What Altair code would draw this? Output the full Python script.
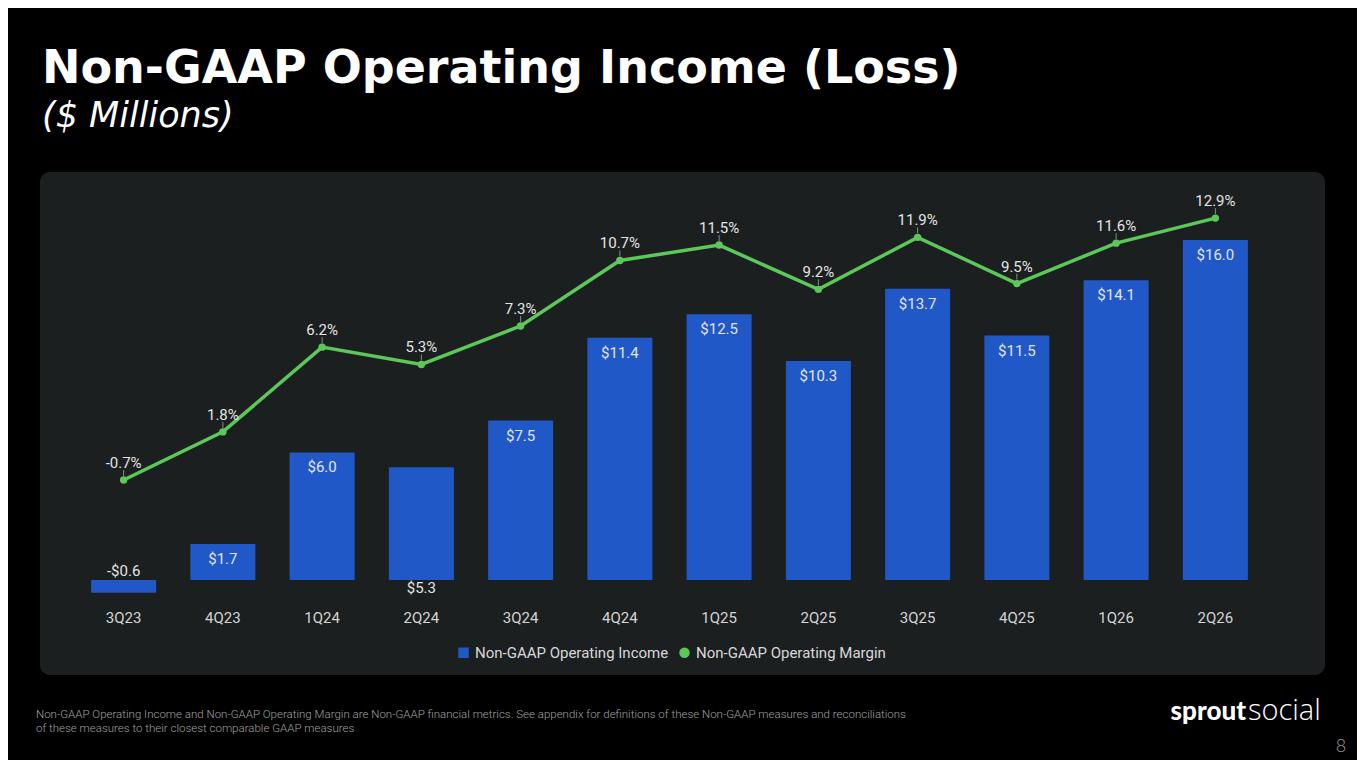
import altair as alt
import pandas as pd

quarters = ["3Q23", "4Q23", "1Q24", "2Q24", "3Q24", "4Q24", "1Q25", "2Q25", "3Q25", "4Q25", "1Q26", "2Q26"]
income = [-0.6, 1.7, 6.0, 5.3, 7.5, 11.4, 12.5, 10.3, 13.7, 11.5, 14.1, 16.0]
margin = [-0.7, 1.8, 6.2, 5.3, 7.3, 10.7, 11.5, 9.2, 11.9, 9.5, 11.6, 12.9]
series_names = ["Non-GAAP Operating Income", "Non-GAAP Operating Margin"]

BLUE = "#2158c8"
GREEN = "#5cc85a"
PANEL = "#1c1f20"
LABEL = "#e4e4e4"
FONT = "Roboto"

df = pd.DataFrame({"quarter": quarters, "income": income, "margin": margin})

W, H = 1191, 410
x_enc = alt.X("quarter:N", sort=quarters,
              scale=alt.Scale(paddingInner=0.345, paddingOuter=0.1725),
              axis=alt.Axis(title=None, labelAngle=0, ticks=False, domain=False,
                            labelColor="#d4d4d4", labelFont=FONT, labelFontSize=15,
                            labelPadding=10, grid=False, zindex=2))
inc_scale = alt.Scale(domain=[-0.94, 18.35], nice=False, zero=False)
mar_scale = alt.Scale(domain=[-6.93, 14.36], nice=False, zero=False)

base = alt.Chart(df)

panel = alt.Chart(pd.DataFrame({"p": [0]})).mark_rect(color=PANEL, cornerRadius=10).encode(
    x=alt.value(-34), x2=alt.value(1251), y=alt.value(-18), y2=alt.value(485))

legend = alt.Legend(orient="none", legendX=382, legendY=455, direction="horizontal",
                    title=None, labelColor="#d8d8d8", labelFont=FONT, labelFontSize=15,
                    labelLimit=400, symbolSize=110, columnPadding=8, padding=0,
                    symbolStrokeWidth=0, zindex=2)
color_scale = alt.Scale(domain=series_names, range=[BLUE, GREEN])

bars = base.transform_calculate(series="'Non-GAAP Operating Income'").mark_bar(
    cornerRadius=1).encode(
    x=x_enc,
    y=alt.Y("income:Q", scale=inc_scale, axis=None),
    y2=alt.datum(0),
    color=alt.Color("series:N", scale=color_scale, legend=legend),
)

lbl_expr = "(datum.income < 0 ? '-' : '') + '$' + format(abs(datum.income), '.1f')"
txt_in = base.transform_calculate(lbl=lbl_expr).transform_filter(
    "datum.income > 0 && datum.quarter != '2Q24'").mark_text(
    color=LABEL, font=FONT, fontSize=15, baseline="middle", dy=15).encode(
    x=x_enc, y=alt.Y("income:Q", scale=inc_scale, axis=None), text="lbl:N")
txt_neg = base.transform_calculate(lbl=lbl_expr, z="0").transform_filter(
    "datum.income < 0").mark_text(
    color=LABEL, font=FONT, fontSize=15, baseline="middle", dy=-9).encode(
    x=x_enc, y=alt.Y("z:Q", scale=inc_scale, axis=None), text="lbl:N")
txt_below = base.transform_calculate(lbl=lbl_expr, z="0").transform_filter(
    "datum.quarter == '2Q24'").mark_text(
    color=LABEL, font=FONT, fontSize=15, baseline="middle", dy=8).encode(
    x=x_enc, y=alt.Y("z:Q", scale=inc_scale, axis=None), text="lbl:N")

bar_layer = alt.layer(bars, txt_in, txt_neg, txt_below)

line = base.mark_line(color=GREEN, strokeWidth=3.5).encode(
    x=x_enc, y=alt.Y("margin:Q", scale=mar_scale, axis=None))
pts = base.transform_calculate(series="'Non-GAAP Operating Margin'").mark_point(
    filled=True, opacity=1, size=55).encode(
    x=x_enc, y=alt.Y("margin:Q", scale=mar_scale, axis=None),
    color=alt.Color("series:N", scale=color_scale, legend=legend),
    shape=alt.Shape("series:N", scale=alt.Scale(domain=series_names, range=["square", "circle"]),
                    legend=legend))
leader = base.mark_rule(color="#8a8a8a", strokeWidth=1, yOffset=-4, y2Offset=-10).encode(
    x=x_enc, y=alt.Y("margin:Q", scale=mar_scale, axis=None), y2="margin:Q")
mlbl = base.transform_calculate(
    lbl="(datum.margin < 0 ? '-' : '') + format(abs(datum.margin), '.1f') + '%'").mark_text(
    color=LABEL, font=FONT, fontSize=15, baseline="middle", dy=-17).encode(
    x=x_enc, y=alt.Y("margin:Q", scale=mar_scale, axis=None), text="lbl:N")

line_layer = alt.layer(leader, line, pts, mlbl)

# page texts
one = pd.DataFrame({"p": [0]})
def txt(s, x, y, **kw):
    return alt.Chart(one).mark_text(text=s, align=kw.pop("align", "left"),
                                    baseline="alphabetic", **kw).encode(
        x=alt.value(x), y=alt.value(y))

title = txt("Non-GAAP Operating Income (Loss)", -32, -107, font="DejaVu Sans", fontSize=46,
            fontWeight="bold", color="#ffffff")
subtitle = txt("($ Millions)", -32, -63, font="DejaVu Sans", fontSize=35, fontWeight=300,
               fontStyle="italic", color="#ffffff")
foot1 = txt("Non-GAAP Operating Income and Non-GAAP Operating Margin are Non-GAAP financial metrics. "
            "See appendix for definitions of these Non-GAAP measures and reconciliations",
            -38, 528, font="Roboto", fontSize=11.5, fontWeight=300, color="#a0a0a0")
foot2 = txt("of these measures to their closest comparable GAAP measures",
            -38, 542, font="Roboto", fontSize=11.5, fontWeight=300, color="#a0a0a0")
logo1 = txt("sprout", 1172, 530, align="right", font="Lato", fontSize=26, fontWeight=900,
            color="#ffffff")
logo2 = txt("social", 1174, 530, font="Open Sans", fontSize=29, fontWeight=300, color="#ffffff")
pnum = txt("8", 1267, 562, align="center", font="Lato", fontSize=18, fontWeight=300,
           color="#9a9a9a")

chart = alt.layer(panel, bar_layer, line_layer, title, subtitle, foot1, foot2, logo1, logo2, pnum
                  ).resolve_scale(y="independent").properties(
    width=W, height=H,
    autosize=alt.AutoSizeParams(type="none"),
    padding={"left": 66, "top": 182, "right": 92, "bottom": 160},
    background="#000000",
).configure_view(stroke=None)

chart.save("out.html", embed_options={"renderer": "svg", "actions": False})
